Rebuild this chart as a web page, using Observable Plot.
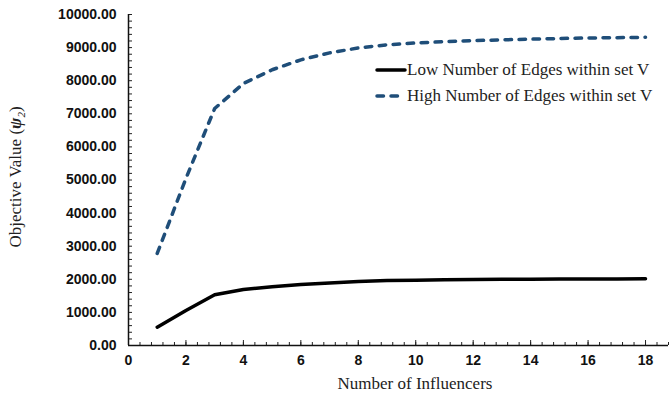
<!DOCTYPE html>
<html>
<head>
<meta charset="utf-8">
<script src="https://cdn.jsdelivr.net/npm/d3@7"></script>
<script src="https://cdn.jsdelivr.net/npm/@observablehq/plot@0.6"></script>
<style>
  html, body { margin: 0; padding: 0; background: #fff; }
  #chart { position: relative; width: 670px; height: 393px; overflow: hidden; }
  #chart svg { display: block; }
</style>
</head>
<body>
<div id="chart"></div>
<script>
// Data
const influencers = [1, 2, 3, 4, 5, 6, 7, 8, 9, 10, 11, 12, 13, 14, 15, 16, 17, 18];
const lowEdges = [553, 1057, 1532, 1692, 1775, 1843, 1890, 1935, 1960, 1975, 1985, 1993, 1998, 2003, 2006, 2009, 2012, 2015];
const highEdges = [2780, 5050, 7160, 7915, 8330, 8630, 8840, 8990, 9085, 9140, 9180, 9210, 9235, 9255, 9275, 9290, 9300, 9310];
const seriesNames = ["Low Number of Edges within set V", "High Number of Edges within set V"];
const yTicks = [0, 1000, 2000, 3000, 4000, 5000, 6000, 7000, 8000, 9000, 10000];
const xTicks = [0, 2, 4, 6, 8, 10, 12, 14, 16, 18];
const xTitle = "Number of Influencers";

const low = influencers.map((x, i) => ({x, y: lowEdges[i]}));
const high = influencers.map((x, i) => ({x, y: highEdges[i]}));

const BLUE = "#1f4e79";
const DASH = "6.5,7.5";
const SANS = "'Liberation Sans', Arial, sans-serif";
const SERIF = "'Liberation Serif', 'Times New Roman', serif";

const plot = Plot.plot({
  width: 670,
  height: 393,
  marginLeft: 128,
  marginRight: 2,
  marginTop: 14,
  marginBottom: 48,
  style: {fontFamily: SANS, background: "white", overflow: "visible"},
  x: {domain: [0, 18.8], label: null},
  y: {domain: [0, 10000], label: null},
  marks: [
    Plot.axisY({ticks: yTicks, tickSize: 0, tickPadding: 12, tickFormat: d => d.toFixed(2),
      fontSize: 14, fontWeight: "bold", fill: "#111", label: null}),
    Plot.axisY({ticks: d3.range(0, 10001, 200), tickSize: 4, dx: 4, text: null, label: null, stroke: "#222"}),
    Plot.axisX({ticks: xTicks, tickSize: 0, tickPadding: 10, fontSize: 14, fontWeight: "bold", fill: "#111", label: null}),
    Plot.axisX({ticks: d3.range(0, 18.81, 0.4), tickSize: 3, dy: -3, text: null, label: null, stroke: "#222"}),
    Plot.axisX({ticks: xTicks, tickSize: 5, dy: -5, text: null, label: null, stroke: "#222"}),
    Plot.ruleX([0], {stroke: "#111", strokeWidth: 1.5}),
    Plot.ruleY([0], {stroke: "#111", strokeWidth: 1.5}),
    Plot.line(low, {x: "x", y: "y", stroke: "black", strokeWidth: 3.5, strokeLinecap: "round"}),
    Plot.line(high, {x: "x", y: "y", stroke: BLUE, strokeWidth: 3.5, strokeDasharray: DASH, strokeLinecap: "round"})
  ]
});

document.getElementById("chart").appendChild(plot);

const svg = d3.select(plot);
// Y title
const yt = svg.append("text")
  .attr("transform", "translate(21,177) rotate(-90)")
  .attr("text-anchor", "middle")
  .style("font-family", SERIF)
  .style("font-size", "17px")
  .attr("fill", "#222");
yt.append("tspan").text("Objective Value (");
yt.append("tspan").text("\u03C8").style("font-weight", "bold").style("font-style", "italic");
yt.append("tspan").text("2").attr("dy", 4).style("font-size", "11px").style("font-style", "italic");
yt.append("tspan").text(")").attr("dy", -4);

// X title
svg.append("text")
  .attr("x", 415).attr("y", 389)
  .attr("text-anchor", "middle")
  .style("font-family", SERIF)
  .style("font-size", "17px")
  .attr("fill", "#222")
  .text(xTitle);

// Legend
const legendItems = [
  {name: seriesNames[0], color: "black", dash: null, y: 70},
  {name: seriesNames[1], color: BLUE, dash: DASH, y: 96}
];
const lg = svg.append("g").attr("text-anchor", "start");
legendItems.forEach(it => {
  lg.append("line")
    .attr("x1", 377).attr("x2", 405).attr("y1", it.y).attr("y2", it.y)
    .attr("stroke", it.color).attr("stroke-width", 3.5).attr("stroke-linecap", "round")
    .attr("stroke-dasharray", it.dash);
  lg.append("text")
    .attr("x", 407).attr("y", it.y + 5)
    .attr("text-anchor", "start")
    .style("font-family", SERIF).style("font-size", "17px")
    .attr("fill", "#222")
    .text(it.name);
});
</script>
</body>
</html>
